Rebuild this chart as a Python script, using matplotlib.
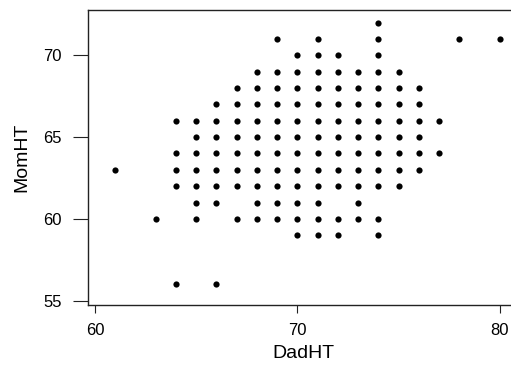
import matplotlib
matplotlib.use("Agg")
import matplotlib.pyplot as plt

# heights, one row per MomHT value
mom_rows = [72, 71, 70, 69, 68, 67, 66, 65, 64, 63, 62, 61, 60, 59, 56]
dad_rows = [
    [74],
    [69, 71, 74, 78, 80],
    [70, 71, 72, 74],
    [68, 69, 70, 71, 72, 73, 74, 75],
    [67, 68, 69, 70, 71, 72, 73, 74, 75, 76],
    [66, 67, 68, 69, 70, 71, 72, 73, 74, 75, 76],
    [64, 65, 66, 67, 68, 69, 70, 71, 72, 73, 74, 75, 76, 77],
    [65, 66, 67, 68, 69, 70, 71, 72, 73, 74, 75, 76],
    [64, 65, 66, 67, 68, 69, 70, 71, 72, 73, 74, 75, 76, 77],
    [61, 64, 65, 66, 67, 68, 69, 70, 71, 72, 73, 74, 75, 76],
    [64, 65, 66, 67, 68, 69, 70, 71, 72, 73, 74, 75],
    [65, 66, 68, 69, 70, 71, 73],
    [63, 65, 67, 68, 69, 70, 71, 72, 73, 74],
    [70, 71, 72, 74],
    [64, 66],
]

x_ticks = [60, 70, 80]
y_ticks = [55, 60, 65, 70]

dad_ht = []
mom_ht = []
for m, row in zip(mom_rows, dad_rows):
    for d in row:
        dad_ht.append(d)
        mom_ht.append(m)

plt.rcParams['font.family'] = ['Liberation Sans', 'DejaVu Sans']

fig = plt.figure(figsize=(5.11, 3.65), dpi=100)
ax = fig.add_axes([0.1716, 0.1644, 0.846, 0.8082])

ax.scatter(dad_ht, mom_ht, s=20, color='black', linewidths=0)

ax.set_xlim(59.64, 80.99)
ax.set_ylim(54.74, 72.77)
ax.set_xticks(x_ticks)
ax.set_yticks(y_ticks)

for sp in ax.spines.values():
    sp.set_color('#222222')
    sp.set_linewidth(1.0)

ax.tick_params(axis='x', direction='out', length=6, width=0.8, color='#222222',
               labelsize=12, pad=7)
ax.tick_params(axis='y', direction='out', length=10.5, width=0.8, color='#222222',
               labelsize=12, pad=8)

ax.set_xlabel('DadHT', fontsize=14, labelpad=5)
ax.set_ylabel('MomHT', fontsize=14, labelpad=9.5)

fig.savefig('out.png', dpi=100)
